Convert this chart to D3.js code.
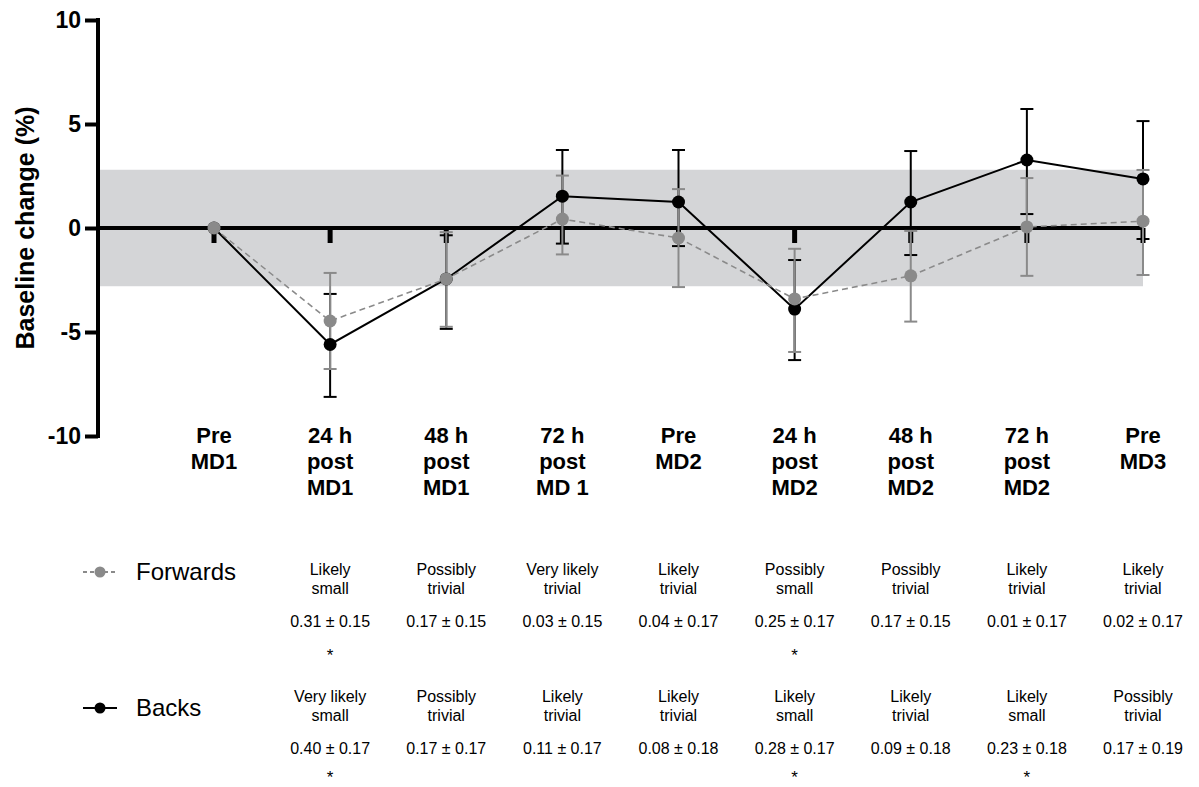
<!DOCTYPE html>
<html>
<head>
<meta charset="utf-8">
<script src="https://cdn.jsdelivr.net/npm/d3@7"></script>
<style>
  body { margin: 0; background: #fff; }
  svg { font-family: "Liberation Sans", Arial, Helvetica, sans-serif; }
</style>
</head>
<body>
<div id="chart"></div>
<script>
// Time points across the two match days
const categories = ['PreMD1', '24MD1', '48MD1', '72MD1', 'PreMD2', '24MD2', '48MD2', '72MD2', 'PreMD3'];
const xLabels = [
  ['Pre', 'MD1'], ['24 h', 'post', 'MD1'], ['48 h', 'post', 'MD1'], ['72 h', 'post', 'MD 1'],
  ['Pre', 'MD2'], ['24 h', 'post', 'MD2'], ['48 h', 'post', 'MD2'], ['72 h', 'post', 'MD2'], ['Pre', 'MD3']
];

// Forwards: mean and error bar bounds (%)
const fwdMean = [0, -4.47, -2.45, 0.43, -0.48, -3.41, -2.3, 0.05, 0.33];
const fwdLow  = [0, -6.78, -4.75, -1.27, -2.84, -5.96, -4.5, -2.3, -2.26];
const fwdHigh = [0, -2.16, -0.2, 2.52, 1.87, -1.0, -0.14, 2.4, 2.79];

// Backs: mean and error bar bounds (%)
const backMean = [0, -5.6, -2.45, 1.53, 1.25, -3.9, 1.25, 3.27, 2.36];
const backLow  = [0, -8.12, -4.85, -0.75, -0.87, -6.35, -1.3, 0.67, -0.53];
const backHigh = [0, -3.17, -0.35, 3.75, 3.75, -1.54, 3.7, 5.72, 5.14];

// Trivial-change band
const bandLow = -2.8, bandHigh = 2.8;

const yTicks = [-10, -5, 0, 5, 10];

// Effect-size annotations (columns start at 24 h post MD1)
const annotCats = categories.slice(1);
const fwdEffect = [['Likely', 'small'], ['Possibly', 'trivial'], ['Very likely', 'trivial'], ['Likely', 'trivial'],
  ['Possibly', 'small'], ['Possibly', 'trivial'], ['Likely', 'trivial'], ['Likely', 'trivial']];
const fwdES = ['0.31 ± 0.15', '0.17 ± 0.15', '0.03 ± 0.15', '0.04 ± 0.17', '0.25 ± 0.17', '0.17 ± 0.15', '0.01 ± 0.17', '0.02 ± 0.17'];
const fwdStar = [true, false, false, false, true, false, false, false];
const backEffect = [['Very likely', 'small'], ['Possibly', 'trivial'], ['Likely', 'trivial'], ['Likely', 'trivial'],
  ['Likely', 'small'], ['Likely', 'trivial'], ['Likely', 'small'], ['Possibly', 'trivial']];
const backES = ['0.40 ± 0.17', '0.17 ± 0.17', '0.11 ± 0.17', '0.08 ± 0.18', '0.28 ± 0.17', '0.09 ± 0.18', '0.23 ± 0.18', '0.17 ± 0.19'];
const backStar = [true, false, false, false, true, false, true, false];

const W = 1199, H = 787;
const GREY = '#8a8a8a';

const svg = d3.select('#chart').append('svg').attr('width', W).attr('height', H);

const x = d3.scalePoint().domain(categories).range([214, 1143]);
const y = d3.scaleLinear().domain([-10, 10]).range([436, 20]);
const axisX = 98;

// Grey band for trivial change
svg.append('rect')
  .attr('x', axisX).attr('y', y(bandHigh))
  .attr('width', x('PreMD3') - axisX).attr('height', y(bandLow) - y(bandHigh))
  .attr('fill', '#d4d5d7');

// Y axis (plain hyphen for negatives, as in the original)
const yAxis = svg.append('g').attr('transform', `translate(${axisX},0)`)
  .call(d3.axisLeft(y).tickValues(yTicks).tickSize(13).tickPadding(4).tickFormat(d => String(d)));
yAxis.select('.domain').attr('stroke', '#000').attr('stroke-width', 4).attr('d', `M0,${y(10) - 2}V${y(-10) + 2}`);
yAxis.selectAll('.tick line').attr('stroke', '#000').attr('stroke-width', 4);
yAxis.selectAll('.tick text').attr('font-size', 23).attr('font-weight', 'bold').attr('fill', '#000')
  .attr('font-family', '"Liberation Sans", Arial, sans-serif');

svg.append('text')
  .attr('transform', `translate(34,${y(0)}) rotate(-90)`)
  .attr('text-anchor', 'middle')
  .attr('font-size', 25).attr('font-weight', 'bold')
  .text('Baseline change (%)');

// Zero line with downward ticks at each time point
svg.append('line')
  .attr('x1', axisX).attr('x2', x('PreMD3'))
  .attr('y1', y(0)).attr('y2', y(0))
  .attr('stroke', '#000').attr('stroke-width', 4);
svg.append('g').selectAll('line').data(categories).join('line')
  .attr('x1', d => x(d)).attr('x2', d => x(d))
  .attr('y1', y(0)).attr('y2', y(0) + 15)
  .attr('stroke', '#000').attr('stroke-width', 5);

// X labels
const xl = svg.append('g').selectAll('text').data(categories).join('text')
  .attr('x', d => x(d)).attr('text-anchor', 'middle')
  .attr('font-size', 22).attr('font-weight', 'bold');
xl.each(function(d, i) {
  d3.select(this).selectAll('tspan').data(xLabels[i]).join('tspan')
    .attr('x', x(d)).attr('y', (t, j) => 443 + j * 26).text(t => t);
});

// Series
const series = [
  { name: 'Backs', mean: backMean, low: backLow, high: backHigh, color: '#000', dash: null, width: 2 },
  { name: 'Forwards', mean: fwdMean, low: fwdLow, high: fwdHigh, color: GREY, dash: '6,4', width: 1.6 }
];

const cap = 6.5;
series.forEach(s => {
  const eb = svg.append('g');
  categories.forEach((c, i) => {
    if (s.low[i] === s.high[i]) return;
    const cx = x(c);
    eb.append('line').attr('x1', cx).attr('x2', cx).attr('y1', y(s.low[i])).attr('y2', y(s.high[i]))
      .attr('stroke', s.color).attr('stroke-width', 2);
    [s.low[i], s.high[i]].forEach(v => {
      eb.append('line').attr('x1', cx - cap).attr('x2', cx + cap).attr('y1', y(v)).attr('y2', y(v))
        .attr('stroke', s.color).attr('stroke-width', 2);
    });
  });
});

series.forEach(s => {
  const line = d3.line().x((d, i) => x(categories[i])).y(d => y(d));
  svg.append('path').datum(s.mean).attr('d', line)
    .attr('fill', 'none').attr('stroke', s.color).attr('stroke-width', s.width)
    .attr('stroke-dasharray', s.dash);
});

series.forEach(s => {
  svg.append('g').selectAll('circle').data(s.mean).join('circle')
    .attr('cx', (d, i) => x(categories[i])).attr('cy', d => y(d))
    .attr('r', 6.5).attr('fill', s.color);
});

// Legend
const legend = [
  { label: 'Forwards', color: GREY, dash: '4,3', y: 572 },
  { label: 'Backs', color: '#000', dash: null, y: 708 }
];
legend.forEach(l => {
  svg.append('line').attr('x1', 83).attr('x2', 117).attr('y1', l.y).attr('y2', l.y)
    .attr('stroke', l.color).attr('stroke-width', 2).attr('stroke-dasharray', l.dash);
  svg.append('circle').attr('cx', 100).attr('cy', l.y).attr('r', 5.5).attr('fill', l.color);
  svg.append('text').attr('x', 136).attr('y', l.y).attr('dy', '0.35em')
    .attr('font-size', 24).text(l.label);
});

// Effect-size annotation rows
function annotRow(effect, es, star, top, starY) {
  const g = svg.append('g').attr('font-size', 16).attr('text-anchor', 'middle');
  annotCats.forEach((c, i) => {
    const cx = x(c);
    effect[i].forEach((t, j) => {
      g.append('text').attr('x', cx).attr('y', top + j * 19).text(t);
    });
    g.append('text').attr('x', cx).attr('y', top + 52).text(es[i]);
    if (star[i]) g.append('text').attr('x', cx).attr('y', starY).attr('font-size', 17).text('*');
  });
}
annotRow(fwdEffect, fwdES, fwdStar, 575, 661);
annotRow(backEffect, backES, backStar, 702, 783);
</script>
</body>
</html>
